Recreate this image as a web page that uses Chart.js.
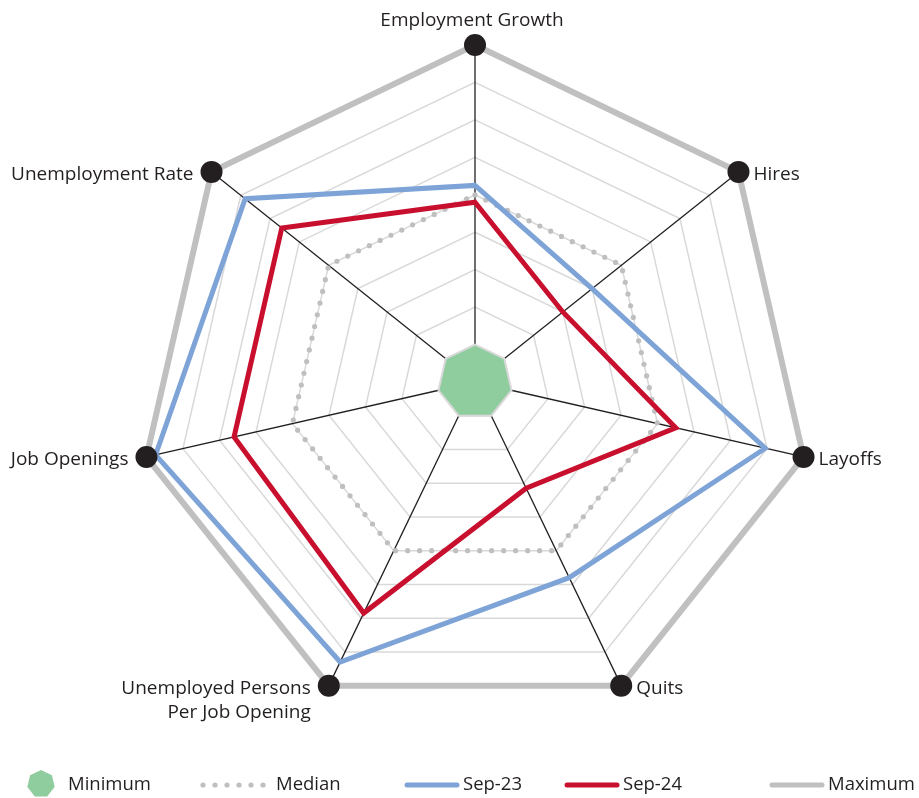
<!DOCTYPE html>
<html>
<head>
<meta charset="utf-8">
<title>Labor market radar</title>
<script src="https://cdn.jsdelivr.net/npm/chart.js@4.4.1/dist/chart.umd.min.js"></script>
<style>
  html, body { margin: 0; padding: 0; background: #ffffff; }
  canvas { display: block; }
</style>
</head>
<body>
<canvas id="myChart1" width="919" height="798"></canvas>
<script>
// axis labels, clockwise from the top
var labels = ["Employment Growth", "Hires", "Layoffs", "Quits",
  ["Unemployed Persons", "Per Job Opening"], "Job Openings", "Unemployment Rate"];

// values on a 0-9 ring scale
var minimum = [1, 1, 1, 1, 1, 1, 1];
var median  = [5, 5, 5, 5, 5, 5, 5];
var sep23   = [5.25, 4.0, 7.95, 5.8, 8.3, 8.75, 7.85];
var sep24   = [4.8, 3.0, 5.5, 3.15, 6.85, 6.6, 6.6];
var maximum = [9, 9, 9, 9, 9, 9, 9];

var FONT = "'Open Sans', 'Noto Sans', sans-serif";
var TEXT = "#231f20";

// axis labels drawn next to each vertex
var axisLabels = {
  id: "axisLabels",
  afterDraw: function (chart) {
    var ctx = chart.ctx;
    var r = chart.scales.r;
    ctx.save();
    ctx.font = "19px " + FONT;
    ctx.fillStyle = TEXT;
    chart.data.labels.forEach(function (lab, i) {
      var p = r.getPointPosition(i, r.drawingArea);
      var lines = Array.isArray(lab) ? lab : [lab];
      var x = p.x, y = p.y + 3;
      if (i === 0) {
        ctx.textAlign = "center";
        ctx.textBaseline = "alphabetic";
        ctx.fillText(lines[0], x - 3, p.y - 19);
        return;
      }
      ctx.textBaseline = "middle";
      if (p.x > r.xCenter) { ctx.textAlign = "left"; x += 15; }
      else { ctx.textAlign = "right"; x -= 18; }
      lines.forEach(function (t, k) { ctx.fillText(t, x, y + k * 24); });
    });
    ctx.restore();
  }
};

// legend row along the bottom
var bottomLegend = {
  id: "bottomLegend",
  afterDraw: function (chart) {
    var ctx = chart.ctx;
    var ds = chart.data.datasets;
    var y = 785;
    var order = ["Minimum", "Median", "Sep-23", "Sep-24", "Maximum"];
    var xs = [28, 200, 405, 565, 770];
    ctx.save();
    ctx.font = "18.5px " + FONT;
    ctx.fillStyle = TEXT;
    order.forEach(function (name, k) {
      var d = ds.find(function (s) { return s.label === name; });
      var x = xs[k], tx;
      ctx.save();
      if (name === "Minimum") {
        ctx.beginPath();
        for (var j = 0; j < 7; j++) {
          var a = -Math.PI / 2 + j * 2 * Math.PI / 7;
          var px = x + 13 + 14 * Math.cos(a), py = y - 1 + 14 * Math.sin(a);
          if (j === 0) ctx.moveTo(px, py); else ctx.lineTo(px, py);
        }
        ctx.closePath();
        ctx.fillStyle = d.backgroundColor;
        ctx.fill();
        tx = x + 40;
      } else if (name === "Median") {
        ctx.fillStyle = d.borderColor;
        for (var m = 0; m < 6; m++) {
          ctx.beginPath();
          ctx.arc(x + 3 + m * 12, y, 2.6, 0, 2 * Math.PI);
          ctx.fill();
        }
        tx = x + 76;
      } else {
        ctx.strokeStyle = d.borderColor;
        ctx.lineWidth = 5;
        ctx.lineCap = "round";
        ctx.beginPath();
        ctx.moveTo(x + 2, y);
        ctx.lineTo(x + 52, y);
        ctx.stroke();
        tx = x + 58;
      }
      ctx.restore();
      ctx.textAlign = "left";
      ctx.textBaseline = "middle";
      ctx.fillText(name, tx, y);
    });
    ctx.restore();
  }
};

new Chart(document.getElementById("myChart1"), {
  type: "radar",
  data: {
    labels: labels,
    datasets: [
      {
        label: "Maximum",
        data: maximum,
        order: 0,
        borderColor: "#c0c0c0",
        borderWidth: 6,
        fill: false,
        pointRadius: 11,
        pointBackgroundColor: "#231f20",
        pointBorderWidth: 0,
      },
      {
        label: "Sep-24",
        data: sep24,
        order: 1,
        borderColor: "#c8102e",
        borderWidth: 5,
        fill: false,
        pointRadius: 0,
      },
      {
        label: "Sep-23",
        data: sep23,
        order: 2,
        borderColor: "#7ea4d7",
        borderWidth: 5,
        fill: false,
        pointRadius: 0,
      },
      {
        label: "Median",
        data: median,
        order: 3,
        borderColor: "#bfbfbf",
        borderWidth: 5.2,
        borderDash: [0, 12],
        borderCapStyle: "round",
        fill: false,
        pointRadius: 0,
      },
      {
        label: "Minimum",
        data: minimum,
        order: 4,
        borderColor: "#d9d9d9",
        borderWidth: 2,
        backgroundColor: "#8fcc9e",
        fill: true,
        pointRadius: 0,
      },
    ],
  },
  options: {
    responsive: false,
    animation: false,
    layout: { padding: { left: 138, right: 107, top: 45, bottom: 79 } },
    plugins: {
      legend: { display: false },
      tooltip: { enabled: false },
    },
    elements: { line: { tension: 0, borderJoinStyle: "miter" } },
    scales: {
      r: {
        min: 0,
        max: 9,
        ticks: { display: false, stepSize: 1 },
        pointLabels: { display: false },
        grid: { color: "#d9d9d9", lineWidth: 1.5, circular: false },
        angleLines: { color: "#231f20", lineWidth: 1.3 },
      },
    },
  },
  plugins: [axisLabels, bottomLegend],
});
</script>
</body>
</html>
